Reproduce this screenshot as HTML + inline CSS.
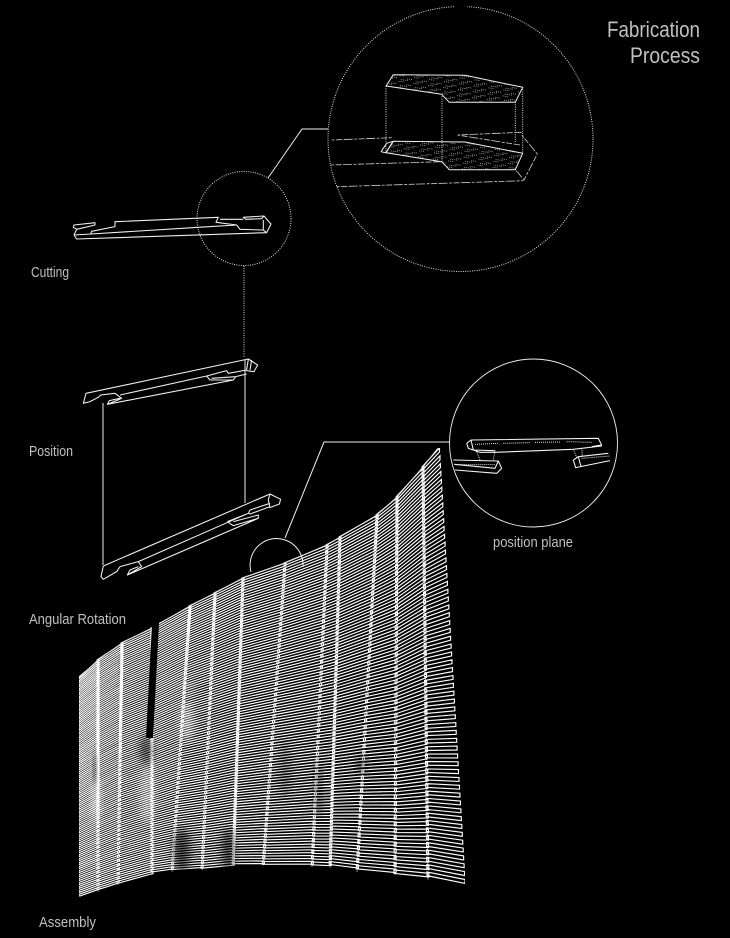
<!DOCTYPE html>
<html>
<head>
<meta charset="utf-8">
<style>
html,body{margin:0;padding:0;background:#000;width:730px;height:938px;overflow:hidden}
svg{display:block}
text{font-family:"Liberation Sans",sans-serif;fill:#c0c0c0;font-weight:normal}
.s{fill:none;stroke:#f0f0f0;stroke-width:1;stroke-linejoin:round}
.t{fill:none;stroke:#d8d8d8;stroke-width:.7;stroke-linejoin:round}
.d{fill:none;stroke:#e0e0e0;stroke-width:1;stroke-dasharray:1 1.3}
.h{fill:none;stroke:#cfcfcf;stroke-width:.8;stroke-dasharray:3 1.5 6 1.5 9 1.5}
</style>
</head>
<body>
<svg xmlns="http://www.w3.org/2000/svg" width="730" height="938" viewBox="0 0 730 938">
<defs>
<pattern id="hatch" width="15" height="6" patternUnits="userSpaceOnUse" patternTransform="rotate(8)">
<path d="M1 1h6M9 3.500h5M3 5h7" stroke="#c0c0c0" stroke-width=".7" stroke-dasharray="1 1" fill="none"/>
</pattern>
<filter id="soft" x="0" y="0" width="100%" height="100%"><feGaussianBlur stdDeviation="0.3"/></filter>
<filter id="blob" x="-50%" y="-50%" width="200%" height="200%"><feGaussianBlur stdDeviation="4"/></filter>
</defs>
<rect width="730" height="938" fill="#000"/>

<!-- title and labels -->
<text x="607" y="37" font-size="22" textLength="93" lengthAdjust="spacingAndGlyphs">Fabrication</text>
<text x="630" y="63" font-size="22" textLength="70" lengthAdjust="spacingAndGlyphs">Process</text>
<text x="31" y="277" font-size="14.5" textLength="38" lengthAdjust="spacingAndGlyphs">Cutting</text>
<text x="29" y="456" font-size="14.5" textLength="44" lengthAdjust="spacingAndGlyphs">Position</text>
<text x="29" y="624" font-size="14.5" textLength="97" lengthAdjust="spacingAndGlyphs">Angular Rotation</text>
<text x="493" y="547" font-size="14.5" textLength="80" lengthAdjust="spacingAndGlyphs">position plane</text>
<text x="39" y="927" font-size="14.5" textLength="57" lengthAdjust="spacingAndGlyphs">Assembly</text>

<!-- large detail circle -->
<circle class="d" cx="460.5" cy="139" r="132.500"/>
<rect x="455" y="3" width="12" height="6" fill="#000"/>
<polyline class="s" points="268,178 302,129 328,129"/>

<polygon points="393.3,74.7 465,75.3 522.7,87.3 515.3,102.3 449.3,102.3 441.7,94.3 386,86" fill="url(#hatch)"/>
<polygon points="393.3,141.3 465,142 522.7,153.3 515.3,169.7 449.3,169.7 441.7,161.7 386,152.7" fill="url(#hatch)"/>
<polygon class="s" points="393.3,74.7 465,75.3 522.7,87.3 515.3,102.3 449.3,102.3 441.7,94.3 386,86"/>
<polygon class="s" points="393.3,141.3 465,142 522.7,153.3 515.3,169.7 449.3,169.7 441.7,161.7 386,152.7"/>
<path class="d" d="M386 86V152.7M442 94V162M522.7 87V153M515.3 102V143"/>
<path class="h" d="M331.7 140L391.7 137.7M331 165L441.7 161.7M336.7 186.7L523.3 180.7M457.3 135L521.700 132.3M457.3 135L520 145M521.700 135L537.3 154L524 180L515.3 169.7"/>
<polyline class="s" points="381,151.7 386,152.7 393,141.3 386.7,143.3 381,151.700"/>

<!-- small dotted circle with the cut piece -->
<circle class="d" cx="244" cy="218.5" r="47"/>
<g transform="translate(60 170) scale(.3333)">
<path fill="none" stroke="#f0f0f0" stroke-width="3.2" stroke-linejoin="round" d="M42 195L50 207L620 188L633 162L612 138L550 142L558 148L605 146L612 138M42 195L92 192L95 184L165 170L165 155L475 142L468 157L530 165L540 178L610 180L620 188M105 158L42 165L40 172L50 178L105 165ZM50 178L42 195M92 192L415 172L530 165M480 148L550 148M610 150L610 180"/>
</g>

<!-- position pieces and guides -->
<path class="d" d="M244 266V358"/>
<path class="s" d="M245 360V503M103 403V565"/>
<g transform="translate(70 340) scale(.3333)">
<path fill="none" stroke="#f0f0f0" stroke-width="3.2" stroke-linejoin="round" d="M40 190L48 160L535 57L563 75L552 95L530 92M112 193L490 120M150 165L410 108L470 92L475 100L530 90M410 108L420 120L490 120L497 110L425 115M497 110L530 102M48 160L40 190L60 185L85 172L92 165L135 160L155 175L112 193L118 182L150 175M535 57L530 90M545 60L540 90"/>
<path fill="none" stroke="#f0f0f0" stroke-width="3.2" stroke-linejoin="round" d="M100 678L600 462L632 478L628 492L600 503L595 480L600 462M100 678L93 710L100 718L140 695L150 680L205 665L215 680L172 705L180 690L205 680M205 665L535 520L540 510L600 490M535 520L540 522L600 500M172 705L565 535L565 525L490 545M472 545L535 520M472 545L490 557L565 535"/>
</g>

<!-- position plane circle -->
<circle class="s" cx="533.5" cy="443" r="84" style="stroke-width:.9"/>
<polyline class="s" points="285,538 324,442 450,442"/>
<g transform="translate(445 420) scale(.3333)">
<path fill="none" stroke="#f5f5f5" stroke-width="3.2" stroke-linejoin="round" d="M65 70L78 60L460 55L470 75L440 80M65 70L70 85L85 90L150 92M150 97L385 88L470 78M85 90L105 97L150 97M78 60L85 90M25 120L160 123L170 145L155 160L30 150M160 123L150 145L28 133M385 120L400 110L490 100M385 120L392 143L495 122M400 110L408 140"/>
<path fill="none" stroke="#e4e4e4" stroke-width="3" stroke-dasharray="3 3" d="M90 73L160 70M175 70L255 68M270 67L345 66M365 65L440 67M95 95L105 120M150 92L145 120M385 88L395 112M410 85L412 108M28 134L150 134M410 115L495 108"/>
</g>

<!-- assembly facade -->
<g id="facade" filter="url(#soft)"></g>
<g id="patches"></g>
<path d="M251 572A26.500 26.500 0 1 1 303 567" class="s"/>
</svg>
<script>
(function(){
var top=[[80,677],[98,660],[122,643],[152,628],[190,606],[215,593],[243,578],[285,563],[327,545],[340,537],[377,515],[397,497],[423,467],[438,448]];
var bot=[[80,899],[98,892],[118,885],[152,875],[172,872],[202,870],[233,867],[263,867],[312,867],[330,868],[357,872],[395,876],[428,880],[464,888]];
var n=56,d="",v="";
function f(a){return a.toFixed(1)}
for(var c=0;c<top.length-1;c++){
 var off=((c*7)%3-1)*0.7;
 for(var r=0;r<n;r++){
  var t=r/n;
  var x0=top[c][0]+(bot[c][0]-top[c][0])*t, y0=top[c][1]+(bot[c][1]-top[c][1])*t+off*t;
  var x1=top[c+1][0]+(bot[c+1][0]-top[c+1][0])*t, y1=top[c+1][1]+(bot[c+1][1]-top[c+1][1])*t+off*t;
  var h0=(bot[c][1]-top[c][1])/n*.5, h1=(bot[c+1][1]-top[c+1][1])/n*.5;
  var e=(c==top.length-2)?1.5:1;
  d+="M"+f(x0-1)+" "+f(y0)+"L"+f(x1+e)+" "+f(y1)+"L"+f(x1+e)+" "+f(y1+h1)+"L"+f(x0-1)+" "+f(y0+h0)+"Z";
 }
}
for(var i=1;i<top.length-1;i++){
 v+="M"+top[i][0]+" "+top[i][1]+"L"+bot[i][0]+" "+bot[i][1];
}
var tp="M"+top.map(function(p){return p.join(" ")}).join("L");
var NS="http://www.w3.org/2000/svg";
var g=document.getElementById("facade");
function add(parent,tag,attrs){var e=document.createElementNS(NS,tag);for(var k in attrs)e.setAttribute(k,attrs[k]);parent.appendChild(e);return e}
add(g,"path",{d:d,fill:"none",stroke:"#ffffff","stroke-width":"1.15"});
add(g,"path",{d:v,fill:"none",stroke:"#ffffff","stroke-width":".7","stroke-dasharray":"3 2",opacity:".7"});
add(g,"path",{d:tp,fill:"none",stroke:"#e0e0e0","stroke-width":"1"});
var p=document.getElementById("patches");
add(p,"polygon",{points:"152,624 159,623 153,738 146,738",fill:"#000"});
var dark=[[146,750,6,14,.5],[182,850,8,22,.6],[228,850,6,22,.6],[285,770,5,30,.3],[318,790,3,30,.45],[361,765,4,10,.5],[95,770,1.5,18,.7],[120,668,1,12,.4]];
dark.forEach(function(b){add(p,"ellipse",{cx:b[0],cy:b[1],rx:b[2],ry:b[3],fill:"#000",opacity:b[4],filter:"url(#blob)"})});
var light=[[187,722,7,20,.4],[147,795,7,28,.35],[96,800,4,22,.5],[190,690,3,10,.2]];
light.forEach(function(b){add(p,"ellipse",{cx:b[0],cy:b[1],rx:b[2],ry:b[3],fill:"#fff",opacity:b[4],filter:"url(#blob)"})});
})();
</script>
</body>
</html>
